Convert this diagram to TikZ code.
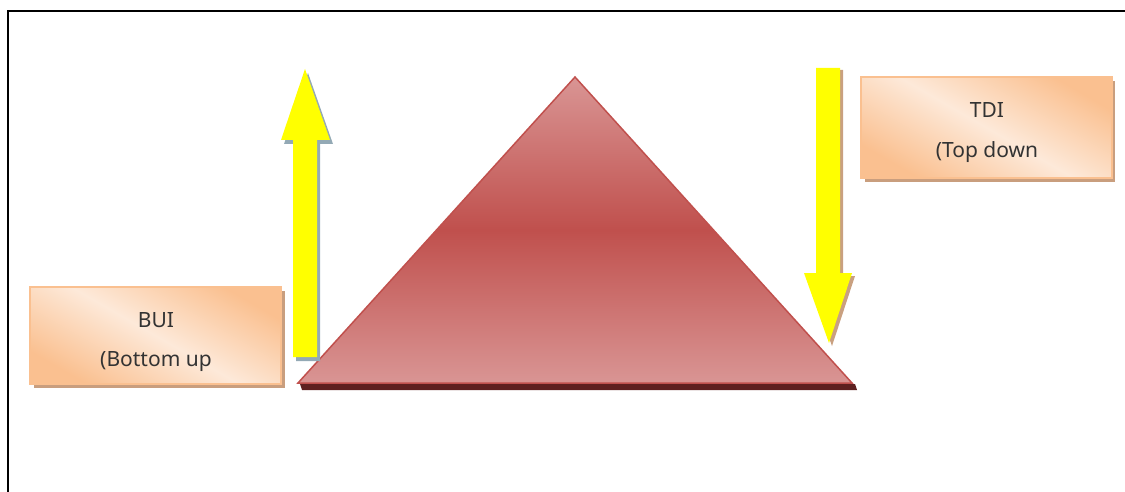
\documentclass[tikz,border=0pt]{standalone}
\usepackage{fontspec}
\setmainfont{Noto Sans}
\usetikzlibrary{shadings}
\definecolor{boxorange}{HTML}{FAC090}
\definecolor{boxlight}{HTML}{FDE9D9}
\definecolor{boxshadow}{HTML}{C99E7E}
\definecolor{triLight}{HTML}{D99594}
\definecolor{triDark}{HTML}{C0504D}
\definecolor{triShadow}{HTML}{5E2020}
\definecolor{arrowYellow}{HTML}{FFFF00}
\definecolor{upShadow}{HTML}{93A9B5}
\definecolor{downShadow}{HTML}{C9A080}
\definecolor{txt}{HTML}{333333}
\tikzset{
  labelbox/.style={draw=boxorange, line width=1.5pt,
    left color=boxorange, right color=boxorange, middle color=boxlight,
    shading angle=-30},
  boxtext/.style={text=txt, font=\fontsize{21}{24}\selectfont, inner sep=0pt}
}
\begin{document}
\begin{tikzpicture}[x=1pt,y=-1pt]
\useasboundingbox (0,0) rectangle (1125,492);
% frame
\draw[line width=2pt] (8,492) -- (8,11) -- (1125,11);

% BUI box
\fill[boxshadow] (34,291) rectangle (285,388);
\path[labelbox] (30,287) rectangle (281,384);
\node[boxtext] (bui) at (156,320) {BUI};
\node[boxtext] (buisub) at (156,362) {(Bottom up};

% TDI box
\fill[boxshadow] (865,81) rectangle (1115,182);
\path[labelbox] (861,77) rectangle (1112,178);
\node[boxtext] (tdi) at (987,110) {TDI};
\node[boxtext] (tdisub) at (987,152) {(Top down};

% triangle
\fill[triShadow] (300,384) -- (855,384) -- (857,390) -- (302,390) -- cycle;
\path[shade, top color=triLight, bottom color=triLight, middle color=triDark]
  (298,383) -- (575,77) -- (852,383) -- cycle;
\draw[triDark, line width=1.5pt, line join=miter] (298,383) -- (575,77) -- (852,383) -- cycle;

% up arrow
\fill[upShadow] (296,361) -- (296,144) -- (284,144) -- (308,73) -- (333,144) -- (320,144) -- (320,361) -- cycle;
\fill[arrowYellow] (293,357) -- (293,140) -- (281,140) -- (305,69) -- (330,140) -- (317,140) -- (317,357) -- cycle;

% down arrow
\fill[downShadow] (819,70) -- (843,70) -- (843,276) -- (855,276) -- (832,346) -- (807,276) -- (819,276) -- cycle;
\fill[arrowYellow] (816,68) -- (840,68) -- (840,273) -- (852,273) -- (829,343) -- (804,273) -- (816,273) -- cycle;
\end{tikzpicture}
\end{document}
